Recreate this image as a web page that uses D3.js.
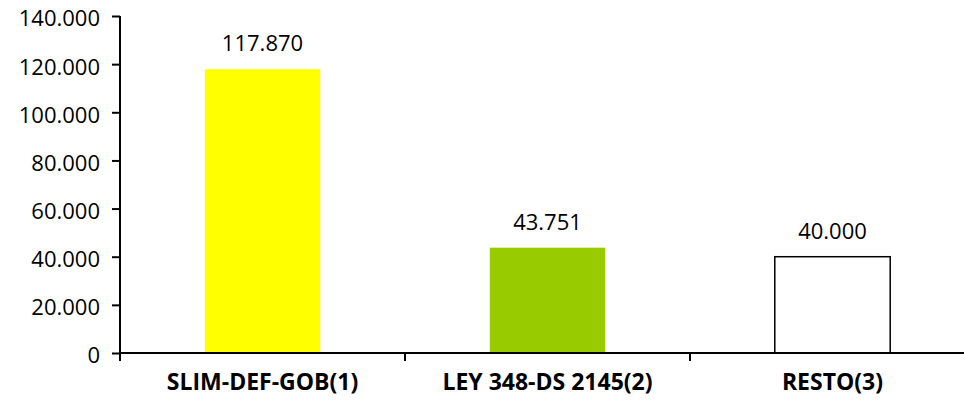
<!DOCTYPE html>
<meta charset="utf-8">
<style>
  body { margin: 0; background: #fff; }
  text { font-family: "Open Sans", Lato, sans-serif; fill: #000; }
</style>
<script src="https://d3js.org/d3.v7.min.js"></script>
<div id="chart"></div>
<script>

// data
var categories = ["SLIM-DEF-GOB(1)", "LEY 348-DS 2145(2)", "RESTO(3)"];
var values = [117.870, 43.751, 40.000];
var colors = ["#ffff00", "#99cc00", "#ffffff"];
var yTicks = [0, 20, 40, 60, 80, 100, 120, 140];

var width = 964, height = 411;
var margin = {top: 16, right: -11, bottom: 58, left: 120};

var svg = d3.select("#chart")
  .append("svg")
    .attr("width", width)
    .attr("height", height);

var x = d3.scaleBand()
  .domain(categories)
  .range([margin.left, width - margin.right])
  .paddingInner(0)
  .paddingOuter(0);

var y = d3.scaleLinear()
  .domain([0, 140])
  .range([height - margin.bottom, margin.top]);

var fmt = function(v) {
  return v === 0 ? "0" : d3.format(".3f")(v);
};

// bars
var barW = x.bandwidth() * 0.405;
svg.selectAll(".bar")
  .data(values)
  .enter()
  .append("rect")
    .attr("class", "bar")
    .attr("x", function(d, i) { return x(categories[i]) + (x.bandwidth() - barW) / 2; })
    .attr("y", function(d) { return y(d); })
    .attr("width", barW)
    .attr("height", function(d) { return y(0) - y(d); })
    .style("fill", function(d, i) { return colors[i]; })
    .style("stroke", function(d, i) { return i == 2 ? "#000" : "none"; })
    .style("stroke-width", 1.5);

// value labels
svg.selectAll(".val")
  .data(values)
  .enter()
  .append("text")
    .attr("class", "val")
    .attr("x", function(d, i) { return x(categories[i]) + x.bandwidth() / 2; })
    .attr("y", function(d) { return y(d) - 18; })
    .attr("text-anchor", "middle")
    .style("font-size", "22px")
    .text(function(d) { return fmt(d); });

// y axis
var yAxis = svg.append("g")
  .attr("transform", "translate(" + margin.left + ",0)")
  .call(d3.axisLeft(y).tickValues(yTicks).tickSize(8).tickPadding(12)
    .tickFormat(function(d) { return d === 0 ? "0" : d3.format(".3f")(d); }));
yAxis.select(".domain").attr("d", "M0," + y(140) + "V" + y(0)).style("stroke-width", 2);
yAxis.selectAll(".tick line").style("stroke-width", 2);
yAxis.selectAll(".tick text").style("font-size", "22px").attr("dy", "0.45em");

// x axis
var bounds = [0, 1, 2].map(function(i) { return x(categories[i]); });
var xAxis = svg.append("g")
  .attr("transform", "translate(0," + y(0) + ")");
xAxis.append("line")
  .attr("x1", margin.left).attr("x2", width)
  .style("stroke", "#000").style("stroke-width", 2);
xAxis.selectAll(".xt")
  .data(bounds)
  .enter()
  .append("line")
    .attr("x1", function(d) { return d; })
    .attr("x2", function(d) { return d; })
    .attr("y1", 0).attr("y2", 8)
    .style("stroke", "#000").style("stroke-width", 2);
xAxis.selectAll(".xl")
  .data(categories)
  .enter()
  .append("text")
    .attr("x", function(d) { return x(d) + x.bandwidth() / 2; })
    .attr("y", 37)
    .attr("text-anchor", "middle")
    .style("font-size", "23px")
    .style("font-weight", "bold")
    .text(function(d) { return d; });

</script>
